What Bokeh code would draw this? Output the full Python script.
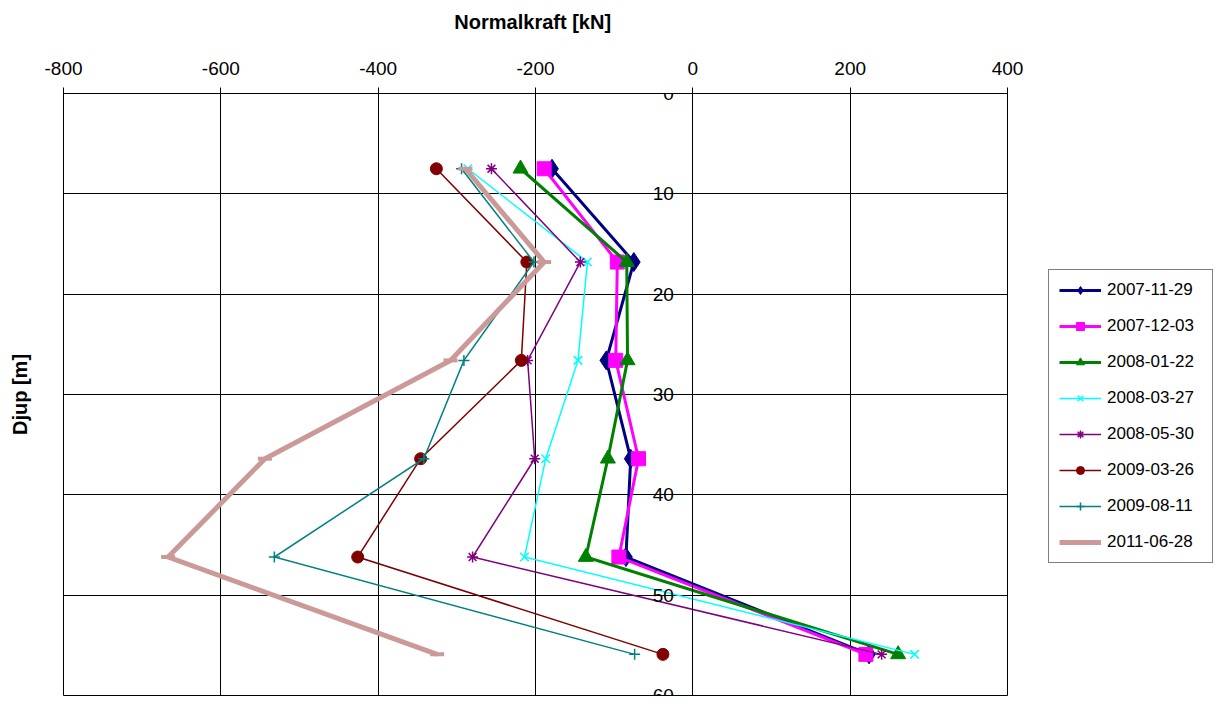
from bokeh.plotting import figure
from bokeh.models import Range1d, LinearAxis, FixedTicker, Legend, LegendItem
from bokeh.embed import file_html
from bokeh.resources import INLINE

# ---- data ----
depth = [7.5, 16.8, 26.6, 36.4, 46.2, 55.9]
dates = ["2007-11-29", "2007-12-03", "2008-01-22", "2008-03-27",
         "2008-05-30", "2009-03-26", "2009-08-11", "2011-06-28"]
n_2007_11_29 = [-179, -75, -110, -79, -85, 224]
n_2007_12_03 = [-189, -96, -98, -69, -94, 220]
n_2008_01_22 = [-219, -84, -83, -108, -136, 261]
n_2008_03_27 = [-286, -134, -146, -187, -214, 282]
n_2008_05_30 = [-256, -143, -210, -201, -280, 240]
n_2009_03_26 = [-326, -211, -218, -346, -426, -38]
n_2009_08_11 = [-294, -202, -291, -342, -532, -74]
n_2011_06_28 = [-289, -189, -308, -544, -667, -325]
series = [n_2007_11_29, n_2007_12_03, n_2008_01_22, n_2008_03_27,
          n_2008_05_30, n_2009_03_26, n_2009_08_11, n_2011_06_28]
x_ticks = [-800, -600, -400, -200, 0, 200, 400]
y_ticks = [0, 10, 20, 30, 40, 50, 60]

# ---- styles ----
colors = ["#000080", "#FF00FF", "#008000", "#00FFFF",
          "#800080", "#800000", "#008080", "#CC9999"]
widths = [3, 3, 3, 1.5, 1.5, 1.5, 1.5, 5]
markers = ["diamond", "square", "triangle", "x", "asterisk", "circle", "cross", "dash"]
msizes = [19, 14, 15, 12, 11, 12, 11, 14]

FONT = "Liberation Sans"

p = figure(frame_width=944, frame_height=602,
           x_range=Range1d(-800, 400), y_range=Range1d(60, 0),
           x_axis_location="above",
           output_backend="svg", toolbar_location=None,
           min_border_left=63, min_border_top=93,
           min_border_right=212, min_border_bottom=13)
p.background_fill_color = "white"
p.border_fill_color = "white"
p.outline_line_color = "black"
p.outline_line_width = 1

# top x axis
xa = p.xaxis[0]
xa.ticker = FixedTicker(ticks=x_ticks)
xa.major_label_overrides = {t: str(t) for t in x_ticks}
xa.axis_label = "Normalkraft  [kN]"
xa.axis_label_text_font = FONT
xa.axis_label_text_font_style = "bold"
xa.axis_label_text_font_size = "20px"
xa.axis_label_text_color = "black"
xa.axis_label_standoff = 26
xa.major_label_text_font = FONT
xa.major_label_text_font_size = "19px"
xa.major_label_text_color = "black"
xa.major_label_standoff = 13
xa.major_tick_out = 6
xa.major_tick_in = 0
xa.minor_tick_out = 0
xa.minor_tick_in = 0
xa.axis_line_color = "black"
xa.major_tick_line_color = "black"

# left axis: title only
ya = p.yaxis[0]
ya.ticker = FixedTicker(ticks=[])
ya.axis_label = "Djup [m]"
ya.axis_label_text_font = FONT
ya.axis_label_text_font_style = "bold"
ya.axis_label_text_font_size = "20px"
ya.axis_label_text_color = "black"
ya.axis_label_standoff = 33
ya.major_tick_out = 0
ya.major_tick_in = 0
ya.minor_tick_out = 0
ya.minor_tick_in = 0
ya.axis_line_color = None

# depth axis drawn at x = 0
y0 = LinearAxis(ticker=FixedTicker(ticks=y_ticks), fixed_location=0)
y0.major_label_text_font = FONT
y0.major_label_text_font_size = "19px"
y0.major_label_text_color = "black"
y0.major_label_standoff = 13
y0.major_tick_out = 6
y0.major_tick_in = 6
y0.minor_tick_out = 0
y0.minor_tick_in = 0
y0.axis_line_color = "black"
y0.major_tick_line_color = "black"
p.add_layout(y0, "left")

p.xgrid.ticker = FixedTicker(ticks=x_ticks)
p.ygrid.ticker = FixedTicker(ticks=y_ticks)
for g in (p.xgrid[0], p.ygrid[0]):
    g.grid_line_color = "black"
    g.grid_line_width = 1
    g.grid_line_alpha = 1

items = []
for lab, vals, c, w, m, s in zip(dates, series, colors, widths, markers, msizes):
    lr = p.line(vals, depth, line_color=c, line_width=w, line_join="miter")
    if m in ("x", "asterisk", "cross", "dash"):
        sr = p.scatter(vals, depth, marker=m, size=s, line_color=c,
                       line_width=(4 if m == "dash" else 1.5), fill_color=None)
    else:
        sr = p.scatter(vals, depth, marker=m, size=s, line_color=c,
                       fill_color=c, line_width=1)
    items.append(LegendItem(label=lab, renderers=[lr, sr]))

legend = Legend(items=items, location=(41, 132),
                orientation="vertical",
                label_text_font=FONT, label_text_font_size="17px",
                label_text_color="black",
                glyph_width=42, glyph_height=20, label_height=20,
                label_width=95, label_standoff=6,
                spacing=16, padding=10, margin=0,
                border_line_color="black", border_line_width=1,
                background_fill_color="white", background_fill_alpha=1)
p.add_layout(legend, "right")

open("out.html", "w").write(file_html(p, INLINE))
